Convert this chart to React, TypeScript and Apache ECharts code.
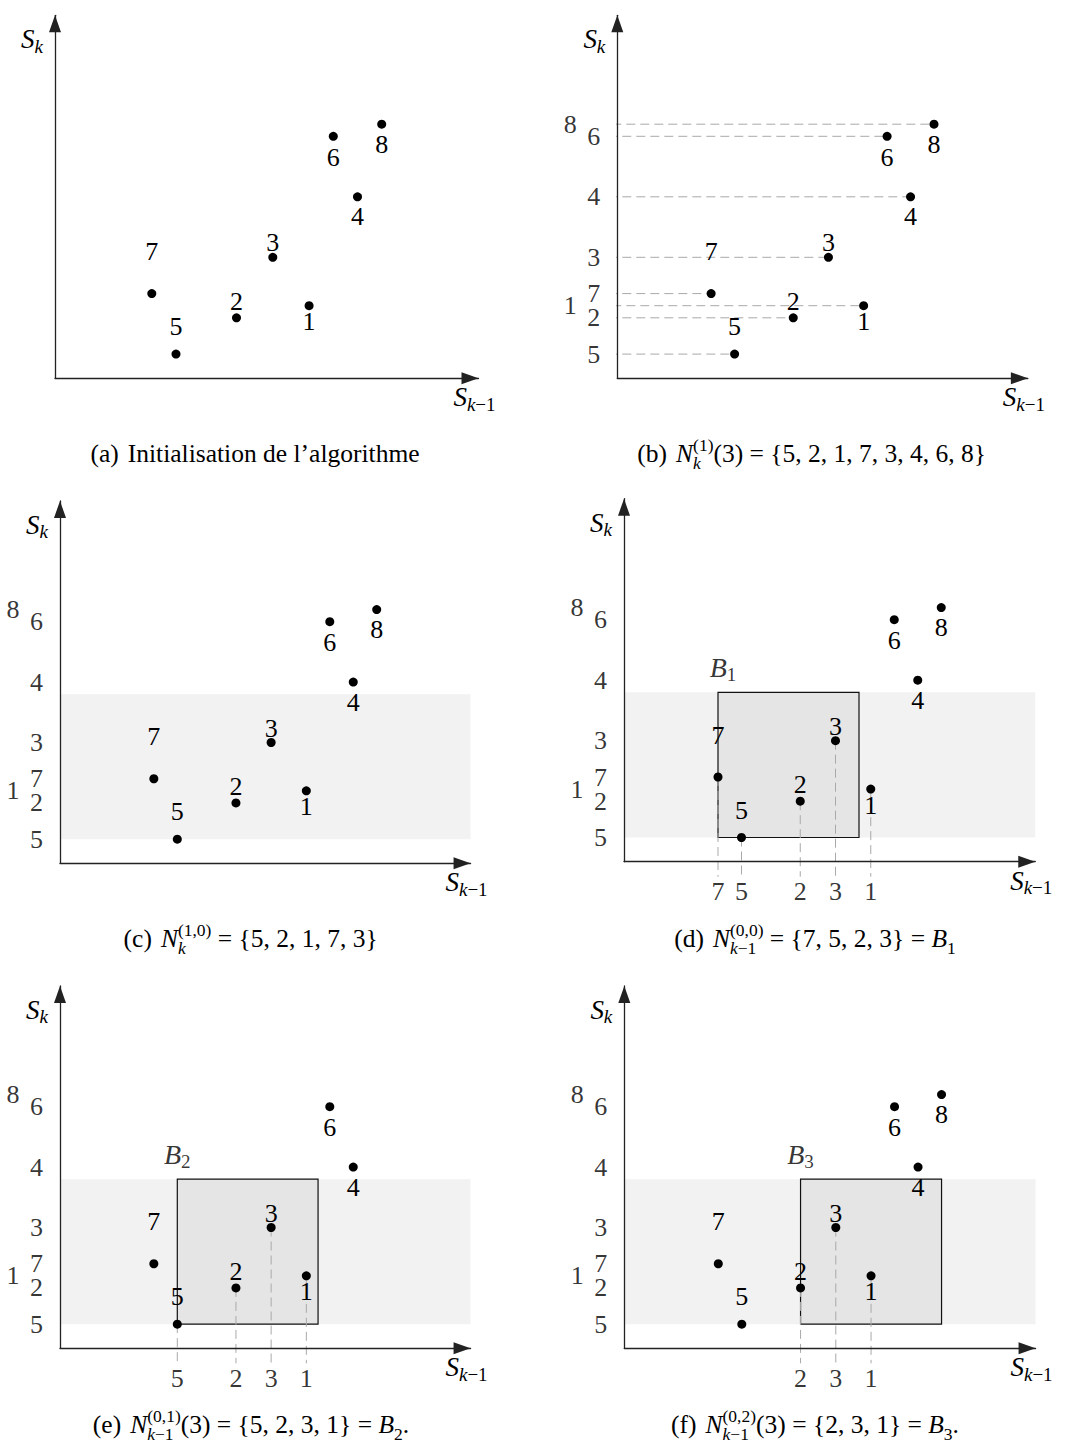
import React, { useEffect, useRef } from 'react';
import * as echarts from 'echarts';

// ---------------- data ----------------
const pointIds = ['1', '2', '3', '4', '5', '6', '7', '8'];
const sPrevValues = [21, 15, 18, 25, 10, 23, 8, 27]; // S_{k-1}
const sCurValues = [6, 5, 10, 15, 2, 20, 7, 21]; // S_k
const axisMaxX = 35;
const axisMaxY = 30;
const bandSk = [2, 14];
const boxD = [8, 20];
const boxE = [10, 22];
const boxF = [15, 27];
const projectedD = ['7', '5', '2', '3', '1'];
const projectedE = ['5', '2', '3', '1'];
const projectedF = ['2', '3', '1'];
const omittedE = ['8'];

// ---------------- styles / layout ----------------
const FONT = 'Liberation Serif, serif';
const DIGIT = 26;
const CAP = 25.5;
const SCR = 17.5;
const labelDy: Record<string, number> = { '1': 16, '2': -16.5, '3': -14.5, '4': 20, '5': -27.5, '6': 21, '7': -42, '8': 20 };
const outerCol = ['8', '1'];
const AXIS_COLOR = '#222';
const DASH_COLOR = '#a9a9a9';

type Panel = {
  ox: number; oy: number; ux: number; uy: number;
  omit: string[]; leftLabels: boolean; hDashes: boolean; band: boolean;
  box: number[] | null; boxNo: string; projected: string[]; boxDx: number;
};

const panels: Panel[] = [
  { ox: 55, oy: 378.3, ux: 12.1, uy: 12.1, omit: [], leftLabels: false, hDashes: false, band: false, box: null, boxNo: '', projected: [], boxDx: 0 },
  { ox: 617.3, oy: 378.3, ux: 11.73, uy: 12.1, omit: [], leftLabels: true, hDashes: true, band: false, box: null, boxNo: '', projected: [], boxDx: 0 },
  { ox: 60, oy: 863.3, ux: 11.73, uy: 12.08, omit: [], leftLabels: true, hDashes: false, band: true, box: null, boxNo: '', projected: [], boxDx: 0 },
  { ox: 624, oy: 861.7, ux: 11.75, uy: 12.1, omit: [], leftLabels: true, hDashes: false, band: true, box: boxD, boxNo: '1', projected: projectedD, boxDx: 5 },
  { ox: 60, oy: 1348.3, ux: 11.73, uy: 12.08, omit: omittedE, leftLabels: true, hDashes: false, band: true, box: boxE, boxNo: '2', projected: projectedE, boxDx: 0 },
  { ox: 624.3, oy: 1348.3, ux: 11.75, uy: 12.08, omit: [], leftLabels: true, hDashes: false, band: true, box: boxF, boxNo: '3', projected: projectedF, boxDx: 0 },
];

const scriptRich = {
  s: { fontFamily: FONT, fontStyle: 'italic', fontSize: 27, color: '#000', verticalAlign: 'middle' },
  b: { fontFamily: FONT, fontStyle: 'italic', fontSize: 28, color: '#000', verticalAlign: 'middle' },
  sub: { fontFamily: FONT, fontStyle: 'italic', fontSize: 19, color: '#000', verticalAlign: 'middle', padding: [14, 0, 0, 0] },
  subr: { fontFamily: FONT, fontSize: 19, color: '#000', verticalAlign: 'middle', padding: [14, 0, 0, 0] },
};

// ---------------- captions ----------------
type Piece = { text: string; size: number; italic?: boolean; rise: number };
type Run = { pieces: Piece[] } | { gap: number } | { top: Piece[]; bottom: Piece[] };
const m = (text: string): Piece => ({ text, size: CAP, rise: 0 });
const it = (text: string): Piece => ({ text, size: CAP, italic: true, rise: 0 });
const sup = (text: string): Piece => ({ text, size: SCR, rise: 11 });
const subI = (text: string): Piece => ({ text, size: SCR, italic: true, rise: -7 });
const subU = (text: string): Piece => ({ text, size: SCR, rise: -7 });
const GAP = 9;

const captions: { cx: number; base: number; runs: Run[] }[] = [
  { cx: 255, base: 462, runs: [{ pieces: [m('(a)')] }, { gap: GAP }, { pieces: [m('Initialisation de l’algorithme')] }] },
  { cx: 811.7, base: 462, runs: [{ pieces: [m('(b)')] }, { gap: GAP }, { pieces: [it('N')] }, { top: [sup('(1)')], bottom: [subI('k')] }, { pieces: [m('(3) = {5, 2, 1, 7, 3, 4, 6, 8}')] }] },
  { cx: 250.7, base: 947, runs: [{ pieces: [m('(c)')] }, { gap: GAP }, { pieces: [it('N')] }, { top: [sup('(1,0)')], bottom: [subI('k')] }, { pieces: [m(' = {5, 2, 1, 7, 3}')] }] },
  { cx: 815, base: 947, runs: [{ pieces: [m('(d)')] }, { gap: GAP }, { pieces: [it('N')] }, { top: [sup('(0,0)')], bottom: [subI('k'), subU('−1')] }, { pieces: [m(' = {7, 5, 2, 3} = '), it('B'), subU('1')] }] },
  { cx: 251, base: 1433, runs: [{ pieces: [m('(e)')] }, { gap: GAP }, { pieces: [it('N')] }, { top: [sup('(0,1)')], bottom: [subI('k'), subU('−1')] }, { pieces: [m('(3) = {5, 2, 3, 1} = '), it('B'), subU('2'), m('.')] }] },
  { cx: 815, base: 1433, runs: [{ pieces: [m('(f)')] }, { gap: GAP }, { pieces: [it('N')] }, { top: [sup('(0,2)')], bottom: [subI('k'), subU('−1')] }, { pieces: [m('(3) = {2, 3, 1} = '), it('B'), subU('3'), m('.')] }] },
];

function fontOf(p: Piece) {
  return `${p.italic ? 'italic ' : ''}${p.size}px ${FONT}`;
}

function buildCaptionGraphics() {
  const ctx = document.createElement('canvas').getContext('2d') as CanvasRenderingContext2D;
  const w = (p: Piece) => { ctx.font = fontOf(p); return ctx.measureText(p.text).width; };
  const rowW = (ps: Piece[]) => ps.reduce((s, p) => s + w(p), 0);
  const runW = (r: Run) => ('gap' in r ? r.gap : 'pieces' in r ? rowW(r.pieces) : Math.max(rowW(r.top), rowW(r.bottom)));
  const els: any[] = [];
  const place = (ps: Piece[], x0: number, base: number) => {
    let x = x0;
    ps.forEach((p) => {
      els.push({
        type: 'text', x, y: base - p.rise - 0.3375 * p.size, silent: true,
        style: {
          text: p.text, fontFamily: FONT, fontSize: p.size, fontStyle: p.italic ? 'italic' : 'normal', fill: '#000',
          align: 'left', verticalAlign: 'middle', textAlign: 'left', textVerticalAlign: 'middle',
        },
      });
      x += w(p);
    });
  };
  captions.forEach((c) => {
    const total = c.runs.reduce((s, r) => s + runW(r), 0);
    let x = c.cx - total / 2;
    c.runs.forEach((r) => {
      if ('pieces' in r) place(r.pieces, x, c.base);
      else if ('top' in r) { place(r.top, x, c.base); place(r.bottom, x, c.base); }
      x += runW(r);
    });
  });
  return els;
}

// ---------------- option ----------------
function buildOption() {
  const xOf = (id: string) => sPrevValues[pointIds.indexOf(id)];
  const yOf = (id: string) => sCurValues[pointIds.indexOf(id)];
  const grid: any[] = [];
  const xAxis: any[] = [];
  const yAxis: any[] = [];
  const series: any[] = [];
  const digitLabel = { show: true, position: 'inside', formatter: '{b}', fontFamily: FONT, fontSize: DIGIT, lineHeight: 20, color: '#000', textBorderWidth: 0 };
  const axisLine = {
    show: true, onZero: false, symbol: ['none', 'triangle'], symbolSize: [12, 17], symbolOffset: [0, -8.5],
    lineStyle: { color: AXIS_COLOR, width: 1.3 },
  };
  const dashStyle = { color: DASH_COLOR, width: 1, type: [9, 5] };

  panels.forEach((p, i) => {
    grid.push({ left: p.ox, top: p.oy - axisMaxY * p.uy, width: axisMaxX * p.ux, height: axisMaxY * p.uy, containLabel: false, outerBoundsMode: 'none' });
    xAxis.push({
      gridIndex: i, type: 'value', min: 0, max: axisMaxX, z: 5,
      axisLine, axisTick: { show: false }, axisLabel: { show: false }, splitLine: { show: false },
      name: '{s|S}{sub|k}{subr|−1}', nameLocation: 'end', nameGap: -4,
      nameTextStyle: { align: 'center', verticalAlign: 'middle', padding: [38, 0, 0, 0], rich: scriptRich },
    });
    yAxis.push({
      gridIndex: i, type: 'value', min: 0, max: axisMaxY, z: 5,
      axisLine, axisTick: { show: false }, axisLabel: { show: false }, splitLine: { show: false },
      name: '{s|S}{sub|k}', nameLocation: 'end', nameGap: -24,
      nameTextStyle: { align: 'right', verticalAlign: 'middle', padding: [0, 12, 0, 0], rich: scriptRich },
    });

    const shown = pointIds.filter((id) => !p.omit.includes(id));
    const areas: any[] = [];
    if (p.band) {
      areas.push([{ xAxis: 0, yAxis: bandSk[0], itemStyle: { color: '#f2f2f2', borderWidth: 0 } }, { xAxis: axisMaxX, yAxis: bandSk[1] }]);
    }
    if (p.box) {
      areas.push([{ xAxis: p.box[0], yAxis: bandSk[0], itemStyle: { color: '#e5e5e5', borderColor: '#111', borderWidth: 1.2 } }, { xAxis: p.box[1], yAxis: bandSk[1] }]);
    }

    // points
    series.push({
      type: 'scatter', xAxisIndex: i, yAxisIndex: i, z: 4, clip: false, silent: true,
      symbol: 'circle', symbolSize: 9, itemStyle: { color: '#000', opacity: 1 },
      label: digitLabel,
      data: shown.map((id) => ({ name: id, value: [xOf(id), yOf(id)], label: { offset: [0, labelDy[id]] } })),
      markArea: areas.length ? { silent: true, z: 1, label: { show: false }, data: areas } : undefined,
    });

    // left S_k rank labels
    if (p.leftLabels) {
      series.push({
        type: 'scatter', xAxisIndex: i, yAxisIndex: i, z: 4, clip: false, silent: true,
        symbol: 'circle', symbolSize: 1, itemStyle: { color: 'rgba(0,0,0,0)' },
        label: digitLabel,
        data: pointIds.map((id) => ({ name: id, value: [0, yOf(id)], label: { offset: [outerCol.includes(id) ? -47 : -23.5, 0] } })),
      });
    }

    // horizontal projections (b)
    if (p.hDashes) {
      shown.forEach((id) => {
        const startPx = outerCol.includes(id) ? -33 : -9;
        series.push({
          type: 'line', xAxisIndex: i, yAxisIndex: i, z: 2, clip: false, silent: true,
          symbol: 'none', showSymbol: false, lineStyle: dashStyle,
          data: [[startPx / p.ux, yOf(id)], [xOf(id), yOf(id)]],
        });
      });
    }

    // vertical projections + bottom labels + box name
    if (p.box) {
      p.projected.forEach((id) => {
        series.push({
          type: 'line', xAxisIndex: i, yAxisIndex: i, z: 2, clip: false, silent: true,
          symbol: 'none', showSymbol: false, lineStyle: dashStyle,
          data: [[xOf(id), yOf(id)], [xOf(id), -15 / p.uy]],
        });
      });
      series.push({
        type: 'scatter', xAxisIndex: i, yAxisIndex: i, z: 4, clip: false, silent: true,
        symbol: 'circle', symbolSize: 1, itemStyle: { color: 'rgba(0,0,0,0)' },
        label: digitLabel,
        data: p.projected.map((id) => ({ name: id, value: [xOf(id), 0], label: { offset: [0, 30] } })),
      });
      series.push({
        type: 'scatter', xAxisIndex: i, yAxisIndex: i, z: 4, clip: false, silent: true,
        symbol: 'circle', symbolSize: 1, itemStyle: { color: 'rgba(0,0,0,0)' },
        label: { show: true, position: 'inside', formatter: `{b|B}{subr|${p.boxNo}}`, rich: scriptRich, color: '#000', textBorderWidth: 0 },
        data: [{ name: 'B' + p.boxNo, value: [p.box[0], bandSk[1]], label: { offset: [p.boxDx, -25] } }],
      });
    }
  });

  return {
    animation: false,
    backgroundColor: '#fff',
    textStyle: { fontFamily: FONT },
    grid, xAxis, yAxis, series,
    graphic: { elements: buildCaptionGraphics() },
  };
}

export default function App() {
  const ref = useRef<HTMLDivElement>(null);
  useEffect(() => {
    if (!ref.current) return;
    const chart = echarts.init(ref.current, null, { renderer: 'svg' });
    chart.setOption(buildOption() as any);
    return () => chart.dispose();
  }, []);
  return <div ref={ref} style={{ position: 'absolute', left: 0, top: 0, width: 1079, height: 1445, background: '#fff' }} />;
}
